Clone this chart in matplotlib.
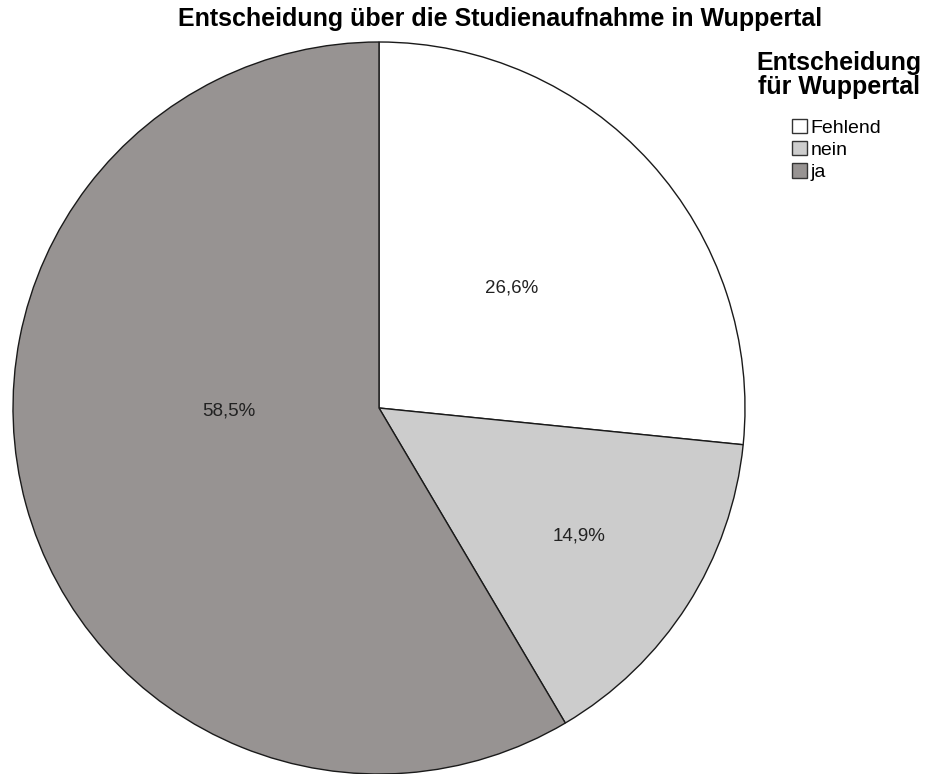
import matplotlib.pyplot as plt
import numpy as np
from matplotlib.patches import Patch

plt.rcParams['font.family'] = ['Liberation Sans', 'DejaVu Sans']

categories = ["Fehlend", "nein", "ja"]
shares = [26.6, 14.9, 58.5]
labels = ["26,6%", "14,9%", "58,5%"]
colors = ["#ffffff", "#cccccc", "#979392"]

fig = plt.figure(figsize=(9.26, 7.74), dpi=100)
ax = fig.add_axes([13 / 926, 0, 732 / 926, 732 / 774])

wedges, _ = ax.pie(shares, colors=colors, startangle=90, counterclock=False,
                   wedgeprops=dict(edgecolor="#1a1a1a", linewidth=1.0))
ax.set_xlim(-1, 1)
ax.set_ylim(-1, 1)
ax.set_aspect("equal")

# label placement (radius fraction, angle shift) as SPSS puts them
label_r = [0.49, 0.65, 0.41]
label_shift = [0, 0, -14]
for w, lab, r, s in zip(wedges, labels, label_r, label_shift):
    ang = np.deg2rad((w.theta1 + w.theta2) / 2 + s)
    ax.text(r * np.cos(ang), r * np.sin(ang), lab, ha="center", va="center",
            fontsize=13.5, color="#222222")

fig.text(500 / 926, 1 - 19 / 774, "Entscheidung über die Studienaufnahme in Wuppertal",
         ha="center", va="center", fontsize=18, fontweight="bold")

fig.text(839 / 926, 1 - 75 / 774, "Entscheidung\nfür Wuppertal", ha="center",
         va="center", fontsize=18, fontweight="bold", linespacing=0.95)

handles = [Patch(facecolor=c, edgecolor="#333333", linewidth=1) for c in colors]
leg = fig.legend(handles, categories, loc="upper left",
                 bbox_to_anchor=(792 / 926, 1 - 119 / 774), frameon=False,
                 fontsize=14, handlelength=0.75, handleheight=0.75,
                 handletextpad=0.2, labelspacing=0.22, borderaxespad=0,
                 borderpad=0)

fig.savefig("out.png")
